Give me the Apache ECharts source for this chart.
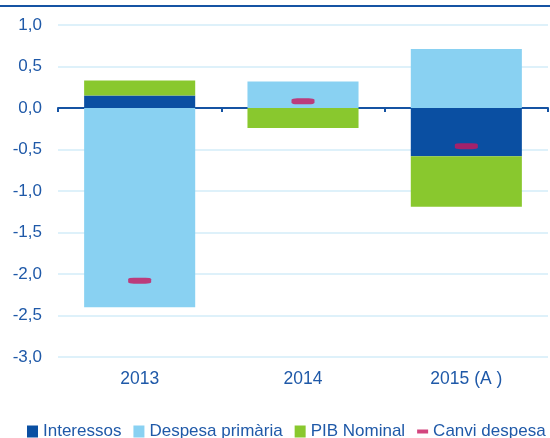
<!DOCTYPE html>
<html>
<head>
<meta charset="utf-8">
<script src="https://cdn.jsdelivr.net/npm/echarts@6/dist/echarts.min.js"></script>
<style>
  html, body { margin: 0; padding: 0; background: #fff; }
  #chart { width: 550px; height: 438px; }
</style>
</head>
<body>
<div id="chart"></div>
<script>
var chartDom = document.getElementById('chart');
var myChart = echarts.init(chartDom);
var option;

// data
const years = ['2013', '2014', '2015 (A )'];
const interessos = [0.15, 0.0, -0.58];
const despesaPrimaria = [-2.40, 0.32, 0.71];
const pibNominal = [0.18, -0.24, -0.61];
const canviDespesa = [-2.08, 0.08, -0.46];

const textBlue = '#1F59A8';

option = {
  animation: false,
  graphic: [
    {
      type: 'line',
      shape: { x1: 0, y1: 6, x2: 550, y2: 6 },
      style: { stroke: '#1553A3', lineWidth: 2 }
    }
  ],
  legend: {
    left: 22,
    top: 418,
    width: 900,
    itemWidth: 11,
    itemHeight: 12,
    itemGap: 12,
    textStyle: { color: textBlue, fontSize: 17, fontFamily: 'Liberation Sans' },
    data: [
      { name: 'Interessos', icon: 'rect' },
      { name: 'Despesa primària', icon: 'rect' },
      { name: 'PIB Nominal', icon: 'rect' },
      { name: 'Canvi despesa', icon: 'path://M0,0h11v4h-11z' }
    ]
  },
  grid: { left: 58, right: 2, top: 25, bottom: 81 },
  xAxis: [
    {
      type: 'category',
      data: years,
      position: 'bottom',
      axisLine: { show: false, onZero: false },
      axisTick: { show: false },
      axisLabel: { color: textBlue, fontSize: 17.5, fontFamily: 'Liberation Sans', margin: 13 }
    },
    {
      type: 'category',
      data: years,
      position: 'bottom',
      axisLine: { onZero: true, lineStyle: { color: '#1553A3', width: 2 } },
      axisTick: { show: true, length: 4, lineStyle: { color: '#1553A3', width: 2 } },
      axisLabel: { show: false }
    }
  ],
  yAxis: {
    type: 'value',
    min: -3,
    max: 1,
    interval: 0.5,
    axisLine: { show: false },
    axisTick: { show: false },
    splitLine: { lineStyle: { color: '#D3ECF8', width: 1.5 } },
    axisLabel: {
      color: textBlue,
      fontSize: 17,
      fontFamily: 'Liberation Sans',
      margin: 16,
      formatter: function (v) { return v.toFixed(1).replace('.', ','); }
    }
  },
  series: [
    {
      name: 'Interessos',
      type: 'bar',
      stack: 'total',
      barWidth: '68%',
      itemStyle: { color: '#0A4FA2' },
      data: interessos
    },
    {
      name: 'Despesa primària',
      type: 'bar',
      stack: 'total',
      itemStyle: { color: '#89D1F2' },
      data: despesaPrimaria
    },
    {
      name: 'PIB Nominal',
      type: 'bar',
      stack: 'total',
      itemStyle: { color: '#89C82E' },
      data: pibNominal
    },
    {
      name: 'Canvi despesa',
      type: 'scatter',
      symbol: 'roundRect',
      symbolSize: [23, 6],
      z: 5,
      itemStyle: { color: '#C8175E' },
      data: canviDespesa
    }
  ]
};

option && myChart.setOption(option);
</script>
</body>
</html>
